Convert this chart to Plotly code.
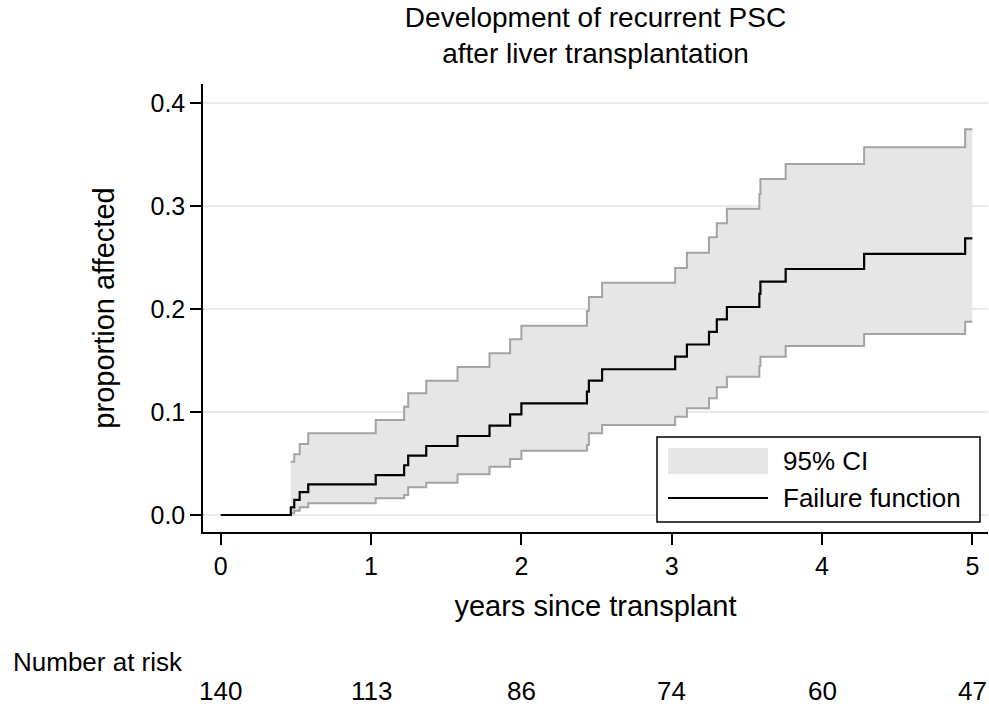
import plotly.graph_objects as go

# ---- data ----
event_times = [0.466, 0.489, 0.525, 0.582, 1.031, 1.220, 1.247, 1.367, 1.575, 1.788,
               1.925, 2.000, 2.436, 2.449, 2.537, 3.023, 3.101, 3.248, 3.300, 3.367,
               3.583, 3.590, 3.758, 4.280, 4.952]
failure = [0.0075, 0.0146, 0.0223, 0.0298, 0.0388, 0.0483, 0.0576, 0.0670, 0.0767, 0.0867,
           0.0976, 0.1083, 0.1197, 0.1304, 0.1415, 0.1537, 0.1655, 0.1777, 0.1900, 0.2019,
           0.2146, 0.2265, 0.2388, 0.2534, 0.2686]
ci_upper = [0.0517, 0.0589, 0.0689, 0.0793, 0.0922, 0.1051, 0.1182, 0.1304, 0.1437, 0.1570,
            0.1706, 0.1838, 0.1980, 0.2117, 0.2255, 0.2398, 0.2547, 0.2696, 0.2832, 0.2974,
            0.3117, 0.3262, 0.3408, 0.3570, 0.3745]
ci_lower = [0.0017, 0.0042, 0.0075, 0.0114, 0.0162, 0.0194, 0.0269, 0.0314, 0.0395, 0.0469,
            0.0544, 0.0624, 0.0680, 0.0793, 0.0874, 0.0954, 0.1036, 0.1133, 0.1240, 0.1343,
            0.1447, 0.1537, 0.1641, 0.1757, 0.1877]
start_time = 0.0
end_time = 5.0

risk_times = [0, 1, 2, 3, 4, 5]
at_risk = [140, 113, 86, 74, 60, 47]

x_ticks = [0, 1, 2, 3, 4, 5]
y_ticks = [0.0, 0.1, 0.2, 0.3, 0.4]

title_text = "Development of recurrent PSC<br>after liver transplantation"
x_title = "years since transplant"
y_title = "proportion affected"
legend_labels = ["95% CI", "Failure function"]

# ---- style ----
FONT = "Liberation Sans, Arial, Helvetica, sans-serif"
CI_LINE = "#a3a3a3"
CI_FILL = "#e6e6e6"
GRID = "#e9e9e9"

ci_x = event_times + [end_time]
fail_x = [start_time] + event_times + [end_time]
fail_y = [0.0] + failure + [failure[-1]]

fig = go.Figure()
fig.add_trace(go.Scatter(x=ci_x, y=ci_lower + [ci_lower[-1]], mode="lines",
                         line=dict(color=CI_LINE, width=2, shape="hv"),
                         name="lower", showlegend=False, hoverinfo="skip"))
fig.add_trace(go.Scatter(x=ci_x, y=ci_upper + [ci_upper[-1]], mode="lines",
                         line=dict(color=CI_LINE, width=2, shape="hv"),
                         fill="tonexty", fillcolor=CI_FILL,
                         name=legend_labels[0], showlegend=False))
fig.add_trace(go.Scatter(x=fail_x, y=fail_y, mode="lines",
                         line=dict(color="black", width=2.2, shape="hv"),
                         name=legend_labels[1], showlegend=False))

# Number at risk row
annotations = [dict(text="Number at risk", xref="paper", yref="paper",
                    x=(11 - 203) / 785, y=(532 - 662) / 448, xanchor="left", yanchor="middle",
                    showarrow=False, font=dict(family=FONT, size=26, color="black"))]
for t, n in zip(risk_times, at_risk):
    annotations.append(dict(text=str(n), xref="x", yref="paper", x=t, y=(532 - 691) / 448,
                            xanchor="center", yanchor="middle", showarrow=False,
                            font=dict(family=FONT, size=26, color="black")))

# Legend (drawn box)
def px_x(p):
    return (p - 203) / 785

def px_y(p):
    return (532 - p) / 448

shapes = [
    dict(type="rect", xref="paper", yref="paper", x0=px_x(657), x1=px_x(980),
         y0=px_y(522), y1=px_y(437), fillcolor="white", line=dict(color="black", width=1.5),
         layer="above"),
    dict(type="rect", xref="paper", yref="paper", x0=px_x(668), x1=px_x(768),
         y0=px_y(474), y1=px_y(448), fillcolor=CI_FILL, line=dict(width=0), layer="above"),
    dict(type="line", xref="paper", yref="paper", x0=px_x(668), x1=px_x(768),
         y0=px_y(498), y1=px_y(498), line=dict(color="black", width=2), layer="above"),
]
annotations.append(dict(text=legend_labels[0], xref="paper", yref="paper", x=px_x(781),
                        y=px_y(461), xanchor="left", yanchor="middle", showarrow=False,
                        font=dict(family=FONT, size=26, color="black")))
annotations.append(dict(text=legend_labels[1], xref="paper", yref="paper", x=px_x(781),
                        y=px_y(498), xanchor="left", yanchor="middle", showarrow=False,
                        font=dict(family=FONT, size=26, color="black")))

fig.update_layout(
    width=989, height=707,
    margin=dict(l=203, r=1, t=84, b=175),
    paper_bgcolor="white", plot_bgcolor="white",
    font=dict(family=FONT, size=25, color="black"),
    title=dict(text=title_text, x=0.5, xref="paper", y=1 - 27 / 707, yref="container",
               yanchor="middle", xanchor="center",
               font=dict(family=FONT, size=28, color="black")),
    showlegend=False,
    annotations=annotations,
    shapes=shapes,
)
fig.update_xaxes(range=[-0.118, 5.104], tickvals=x_ticks, ticks="outside", ticklen=11,
                 tickwidth=1.5, tickcolor="black", showline=True, linecolor="black",
                 linewidth=1.5, showgrid=False, zeroline=False,
                 tickfont=dict(family=FONT, size=25, color="black"),
                 title=dict(text=x_title, standoff=17,
                            font=dict(family=FONT, size=29, color="black")))
fig.update_yaxes(range=[-0.0165, 0.4184], tickvals=y_ticks, tickformat=".1f",
                 ticks="outside", ticklen=11, tickwidth=1.5, tickcolor="black",
                 showline=True, linecolor="black", linewidth=1.5,
                 showgrid=True, gridcolor=GRID, gridwidth=2, zeroline=False,
                 tickfont=dict(family=FONT, size=25, color="black"),
                 title=dict(text=y_title, standoff=27,
                            font=dict(family=FONT, size=29, color="black")))

fig.write_html("out.html", config={"displayModeBar": False},
               post_script="document.body.style.margin='0px';")
